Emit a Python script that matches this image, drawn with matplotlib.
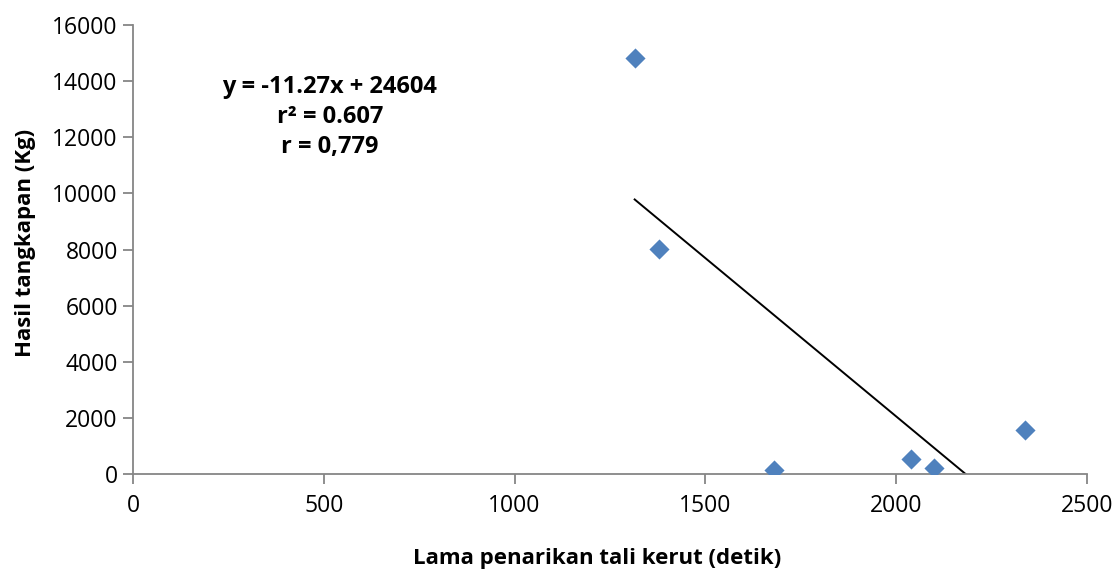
import matplotlib
matplotlib.use('Agg')
import matplotlib.pyplot as plt
import numpy as np

# data
durasi = [1315, 1378, 1680, 2039, 2099, 2337]
hasil = [14820, 8020, 150, 540, 220, 1570]
slope = -11.27
intercept = 24604
x_ticks = [0, 500, 1000, 1500, 2000, 2500]
y_ticks = [0, 2000, 4000, 6000, 8000, 10000, 12000, 14000, 16000]

plt.rcParams['font.family'] = ['Open Sans', 'DejaVu Sans']

fig = plt.figure(figsize=(11.18, 5.79), dpi=100)
ax = fig.add_axes([0.119, 0.181, 0.853, 0.776])

ax.scatter(durasi, hasil, marker='D', s=105, color='#4F81BD', zorder=3, linewidths=0)

# trend line from the smallest x to where it hits zero
x_line = np.array([min(durasi), -intercept / slope])
ax.plot(x_line, slope * x_line + intercept, color='black', lw=1.4, zorder=2)

ax.set_xlim(0, 2500)
ax.set_ylim(0, 16000)
ax.set_xticks(x_ticks)
ax.set_yticks(y_ticks)

for s in ['top', 'right']:
    ax.spines[s].set_visible(False)
for s in ['left', 'bottom']:
    ax.spines[s].set_color('#868686')
    ax.spines[s].set_linewidth(1.3)
ax.tick_params(axis='both', colors='#868686', length=7, width=1.3, labelsize=16.5,
               labelcolor='black', direction='out')
ax.tick_params(axis='x', pad=7)
ax.tick_params(axis='y', pad=4)

ax.set_xlabel('Lama penarikan tali kerut (detik)', fontsize=16, fontweight='bold', labelpad=22)
ax.set_ylabel('Hasil tangkapan (Kg)', fontsize=16, fontweight='bold', labelpad=12)
ax.xaxis.label.set_x(0.487)
ax.yaxis.label.set_y(0.514)

ax.text(516, 12720, 'y = -11.27x + 24604\nr² = 0.607\nr = 0,779',
        ha='center', va='center', fontsize=17, fontweight='bold', linespacing=1.32)

fig.savefig('out.png', dpi=100)
